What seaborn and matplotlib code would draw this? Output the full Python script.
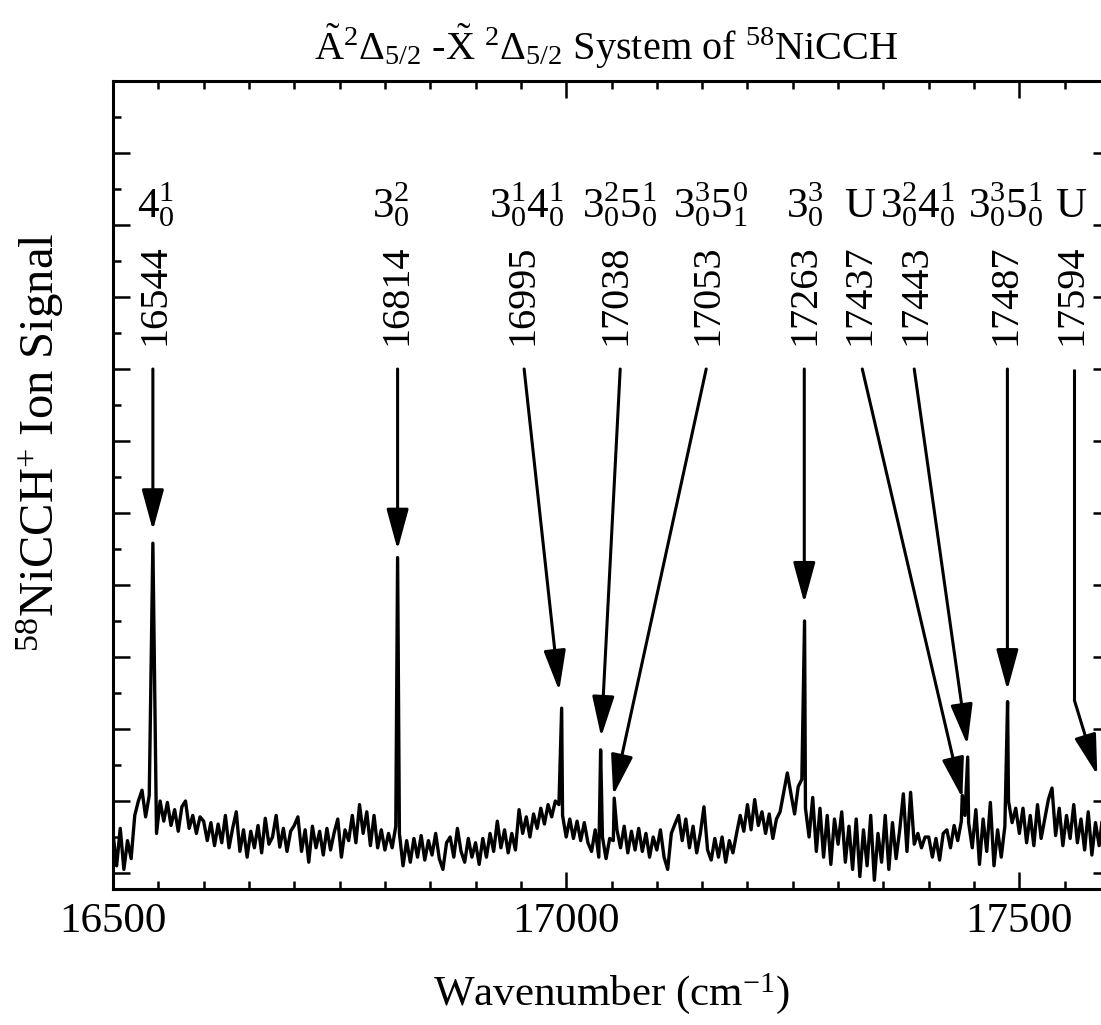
import numpy as np
import pandas as pd
import matplotlib
matplotlib.use("Agg")
import matplotlib.pyplot as plt
import seaborn as sns

# ---------------- data ----------------
grid_start, grid_stop, grid_step = 16500, 17600, 4
baseline_vals = (
    # 16500-16596
    [0.55, 0.10, 0.62, 0.05, 0.45, 0.20, 0.80, 1.00, 1.15, 0.78, 1.08, 0.90, 0.55,
     1.00, 0.72, 0.98, 0.66, 0.88, 0.58, 0.92, 1.00, 0.62, 0.80, 0.55, 0.78] +
    # 16600-16696
    [0.72, 0.45, 0.70, 0.38, 0.68, 0.42, 0.80, 0.35, 0.62, 0.85, 0.30, 0.60, 0.22,
     0.58, 0.35, 0.66, 0.28, 0.76, 0.40, 0.50, 0.80, 0.36, 0.62, 0.30, 0.58] +
    # 16700-16796
    [0.66, 0.78, 0.30, 0.60, 0.15, 0.65, 0.35, 0.58, 0.25, 0.62, 0.32, 0.56, 0.75,
     0.22, 0.60, 0.45, 0.80, 0.42, 0.95, 0.55, 0.85, 0.38, 0.80, 0.35, 0.60] +
    # 16800-16896
    [0.32, 0.55, 0.35, 0.65, 0.55, 0.10, 0.45, 0.15, 0.48, 0.22, 0.52, 0.18, 0.45,
     0.25, 0.55, 0.20, 0.05, 0.42, 0.50, 0.22, 0.62, 0.30, 0.15, 0.48, 0.22] +
    # 16900-16996
    [0.42, 0.12, 0.48, 0.22, 0.55, 0.30, 0.72, 0.35, 0.60, 0.28, 0.55, 0.32, 0.88,
     0.55, 0.78, 0.50, 0.82, 0.62, 0.90, 0.68, 0.95, 0.78, 1.00, 0.95, 0.80] +
    # 17000-17096
    [0.50, 0.75, 0.48, 0.72, 0.45, 0.70, 0.42, 0.30, 0.60, 0.22, 0.50, 0.20, 0.48,
     0.45, 0.60, 0.35, 0.65, 0.28, 0.58, 0.32, 0.62, 0.30, 0.55, 0.22, 0.50] +
    # 17100-17196
    [0.32, 0.60, 0.22, 0.05, 0.55, 0.68, 0.80, 0.45, 0.75, 0.35, 0.65, 0.28, 0.55,
     0.92, 0.32, 0.18, 0.48, 0.22, 0.50, 0.15, 0.45, 0.28, 0.55, 0.80, 0.58] +
    # 17200-17296
    [0.95, 0.60, 1.02, 0.66, 0.85, 0.55, 0.82, 0.48, 0.75, 0.85, 1.12, 1.39, 1.10,
     0.82, 1.20, 1.30, 0.90, 0.50, 1.05, 0.30, 0.90, 0.22, 0.80, 0.12, 0.75] +
    # 17300-17396
    [0.40, 0.85, 0.15, 0.65, 0.05, 0.75, -0.05, 0.60, 0.10, 0.80, -0.10, 0.55, 0.15,
     0.80, 0.05, 0.70, 0.20, 0.60, 1.10, 0.30, 1.12, 0.40, 0.55, 0.35, 0.50] +
    # 17400-17496
    [0.50, 0.22, 0.48, 0.18, 0.55, 0.60, 0.35, 0.66, 0.45, 0.72, 0.80, 0.70, 0.35,
     0.88, 0.12, 0.75, 0.30, 0.98, 0.10, 0.60, 0.22, 0.65, 1.00, 0.70, 0.90] +
    # 17500-17600
    [0.55, 0.90, 0.42, 0.80, 0.38, 0.95, 0.48, 0.75, 1.02, 1.18, 0.52, 0.90, 0.38,
     0.80, 0.48, 0.95, 0.42, 0.75, 0.32, 0.85, 0.25, 0.70, 0.38, 0.80, 0.48, 0.75]
)

peak_wn = [16544, 16814, 16995, 17038, 17053, 17263, 17437, 17443, 17487, 17594]
peak_top = [4.58, 4.38, 2.29, 1.71, 1.04, 3.50, 1.08, 1.61, 2.38, 1.25]

# annotation texts
number_labels = ["16544", "16814", "16995", "17038", "17053", "17263",
                 "17437", "17443", "17487", "17594"]
number_label_wn = [16546, 16813, 16952.5, 17055, 17157, 17263,
                   17324.5, 17386, 17485.6, 17558.5]
assign_labels = [r"$4^{1}_{0}$", r"$3^{2}_{0}$", r"$3^{1}_{0}4^{1}_{0}$",
                 r"$3^{2}_{0}5^{1}_{0}$", r"$3^{3}_{0}5^{0}_{1}$", r"$3^{3}_{0}$",
                 "U", r"$3^{2}_{0}4^{1}_{0}$", r"$3^{3}_{0}5^{1}_{0}$", "U"]
assign_label_wn = [16547.5, 16807, 16956, 17059, 17159.5, 17263,
                   17324, 17388, 17484.5, 17557]
arrow_start_wn = [16544, 16814, 16953.6, 17059.6, 17154.5, 17262.7,
                  17326.7, 17384, 17486.8, 17560.7]
arrow_tip_wn = [16544, 16814, 16992.3, 17038.6, 17051.9, 17262.7,
                17437.1, 17442.6, 17486.8, 17586]
arrow_tip_y = [4.76, 4.49, 2.53, 1.89, 1.08, 3.75, 1.04, 1.78, 2.54, 1.36]
bend_y_17594 = 2.40

# ---------------- build table ----------------
grid_wn = np.arange(grid_start, grid_stop + 1, grid_step)
base = pd.DataFrame({"wn": grid_wn.astype(float), "signal": baseline_vals})
base = base[~base["wn"].isin(peak_wn)]
peaks = pd.DataFrame({"wn": np.array(peak_wn, float), "signal": peak_top})
df = pd.concat([base, peaks]).sort_values("wn").reset_index(drop=True)

# ---------------- style ----------------
sns.set_style("ticks")
plt.rcParams["font.family"] = ["Liberation Serif", "DejaVu Serif"]
plt.rcParams["mathtext.fontset"] = "custom"
plt.rcParams["mathtext.rm"] = "Liberation Serif"
plt.rcParams["mathtext.it"] = "Liberation Serif:italic"
plt.rcParams["mathtext.bf"] = "Liberation Serif:bold"
plt.rcParams["mathtext.default"] = "regular"
for k in ["text.color", "axes.labelcolor", "xtick.color", "ytick.color",
          "axes.edgecolor", "xtick.labelcolor", "ytick.labelcolor"]:
    plt.rcParams[k] = "black"

W, H = 1101, 1025
fig = plt.figure(figsize=(W / 100, H / 100), dpi=100)
fig.patch.set_facecolor("white")
ax = fig.add_axes([113 / W, 1 - 889 / H, (1110 - 113) / W, (889 - 81) / H])

sns.lineplot(data=df, x="wn", y="signal", ax=ax, color="black", linewidth=2.4,
             estimator=None, sort=True)

ax.set_xlim(16500, 17600)
ax.set_ylim(-0.222, 11.0)
ax.set_xlabel("")
ax.set_ylabel("")

ax.xaxis.set_major_locator(matplotlib.ticker.MultipleLocator(500))
ax.xaxis.set_minor_locator(matplotlib.ticker.MultipleLocator(50))
ax.yaxis.set_major_locator(matplotlib.ticker.MultipleLocator(1))
ax.yaxis.set_minor_locator(matplotlib.ticker.MultipleLocator(0.5))
ax.tick_params(which="both", direction="in", top=True, right=True,
               width=1.8, color="black")
ax.tick_params(which="major", length=12, pad=10, labelsize=31)
ax.tick_params(which="minor", length=6)
ax.tick_params(axis="y", labelleft=False)
for sp in ax.spines.values():
    sp.set_linewidth(2.2)
    sp.set_color("black")

# ---------------- annotations ----------------
arrow_kw = dict(arrowstyle="-|>,head_length=1.25,head_width=0.34", lw=2.2,
                color="black", mutation_scale=20, shrinkA=0, shrinkB=0)
start_y = 7.0
for i in range(len(peak_wn)):
    ax.text(number_label_wn[i], 8.03, number_labels[i], rotation=90,
            ha="center", va="center", fontsize=29)
    ax.text(assign_label_wn[i], 9.11, assign_labels[i], ha="center",
            va="baseline", fontsize=31)
    if number_labels[i] == "17594":
        ax.plot([arrow_start_wn[i], arrow_start_wn[i]], [start_y, bend_y_17594],
                color="black", lw=2.2, solid_capstyle="butt")
        ax.annotate("", xy=(arrow_tip_wn[i], arrow_tip_y[i]),
                    xytext=(arrow_start_wn[i], bend_y_17594), arrowprops=arrow_kw)
    else:
        ax.annotate("", xy=(arrow_tip_wn[i], arrow_tip_y[i]),
                    xytext=(arrow_start_wn[i], start_y), arrowprops=arrow_kw)

# ---------------- titles / labels ----------------
fig.text(606 / W, 1 - 60 / H,
         r"$\mathrm{\tilde{A}}^{2}\Delta_{5/2}$ -$\mathrm{\tilde{X}}$ $^{2}\Delta_{5/2}$ System of $^{58}$NiCCH",
         ha="center", va="baseline", fontsize=29)
fig.text(611 / W, 1 - 1005 / H, r"Wavenumber (cm$^{-1}$)",
         ha="center", va="baseline", fontsize=31)
fig.text(40 / W, 1 - 442 / H, r"$^{58}$NiCCH$^{+}$ Ion Signal", rotation=90,
         ha="center", va="center", fontsize=35)

fig.savefig("out.png", dpi=100, facecolor="white")
